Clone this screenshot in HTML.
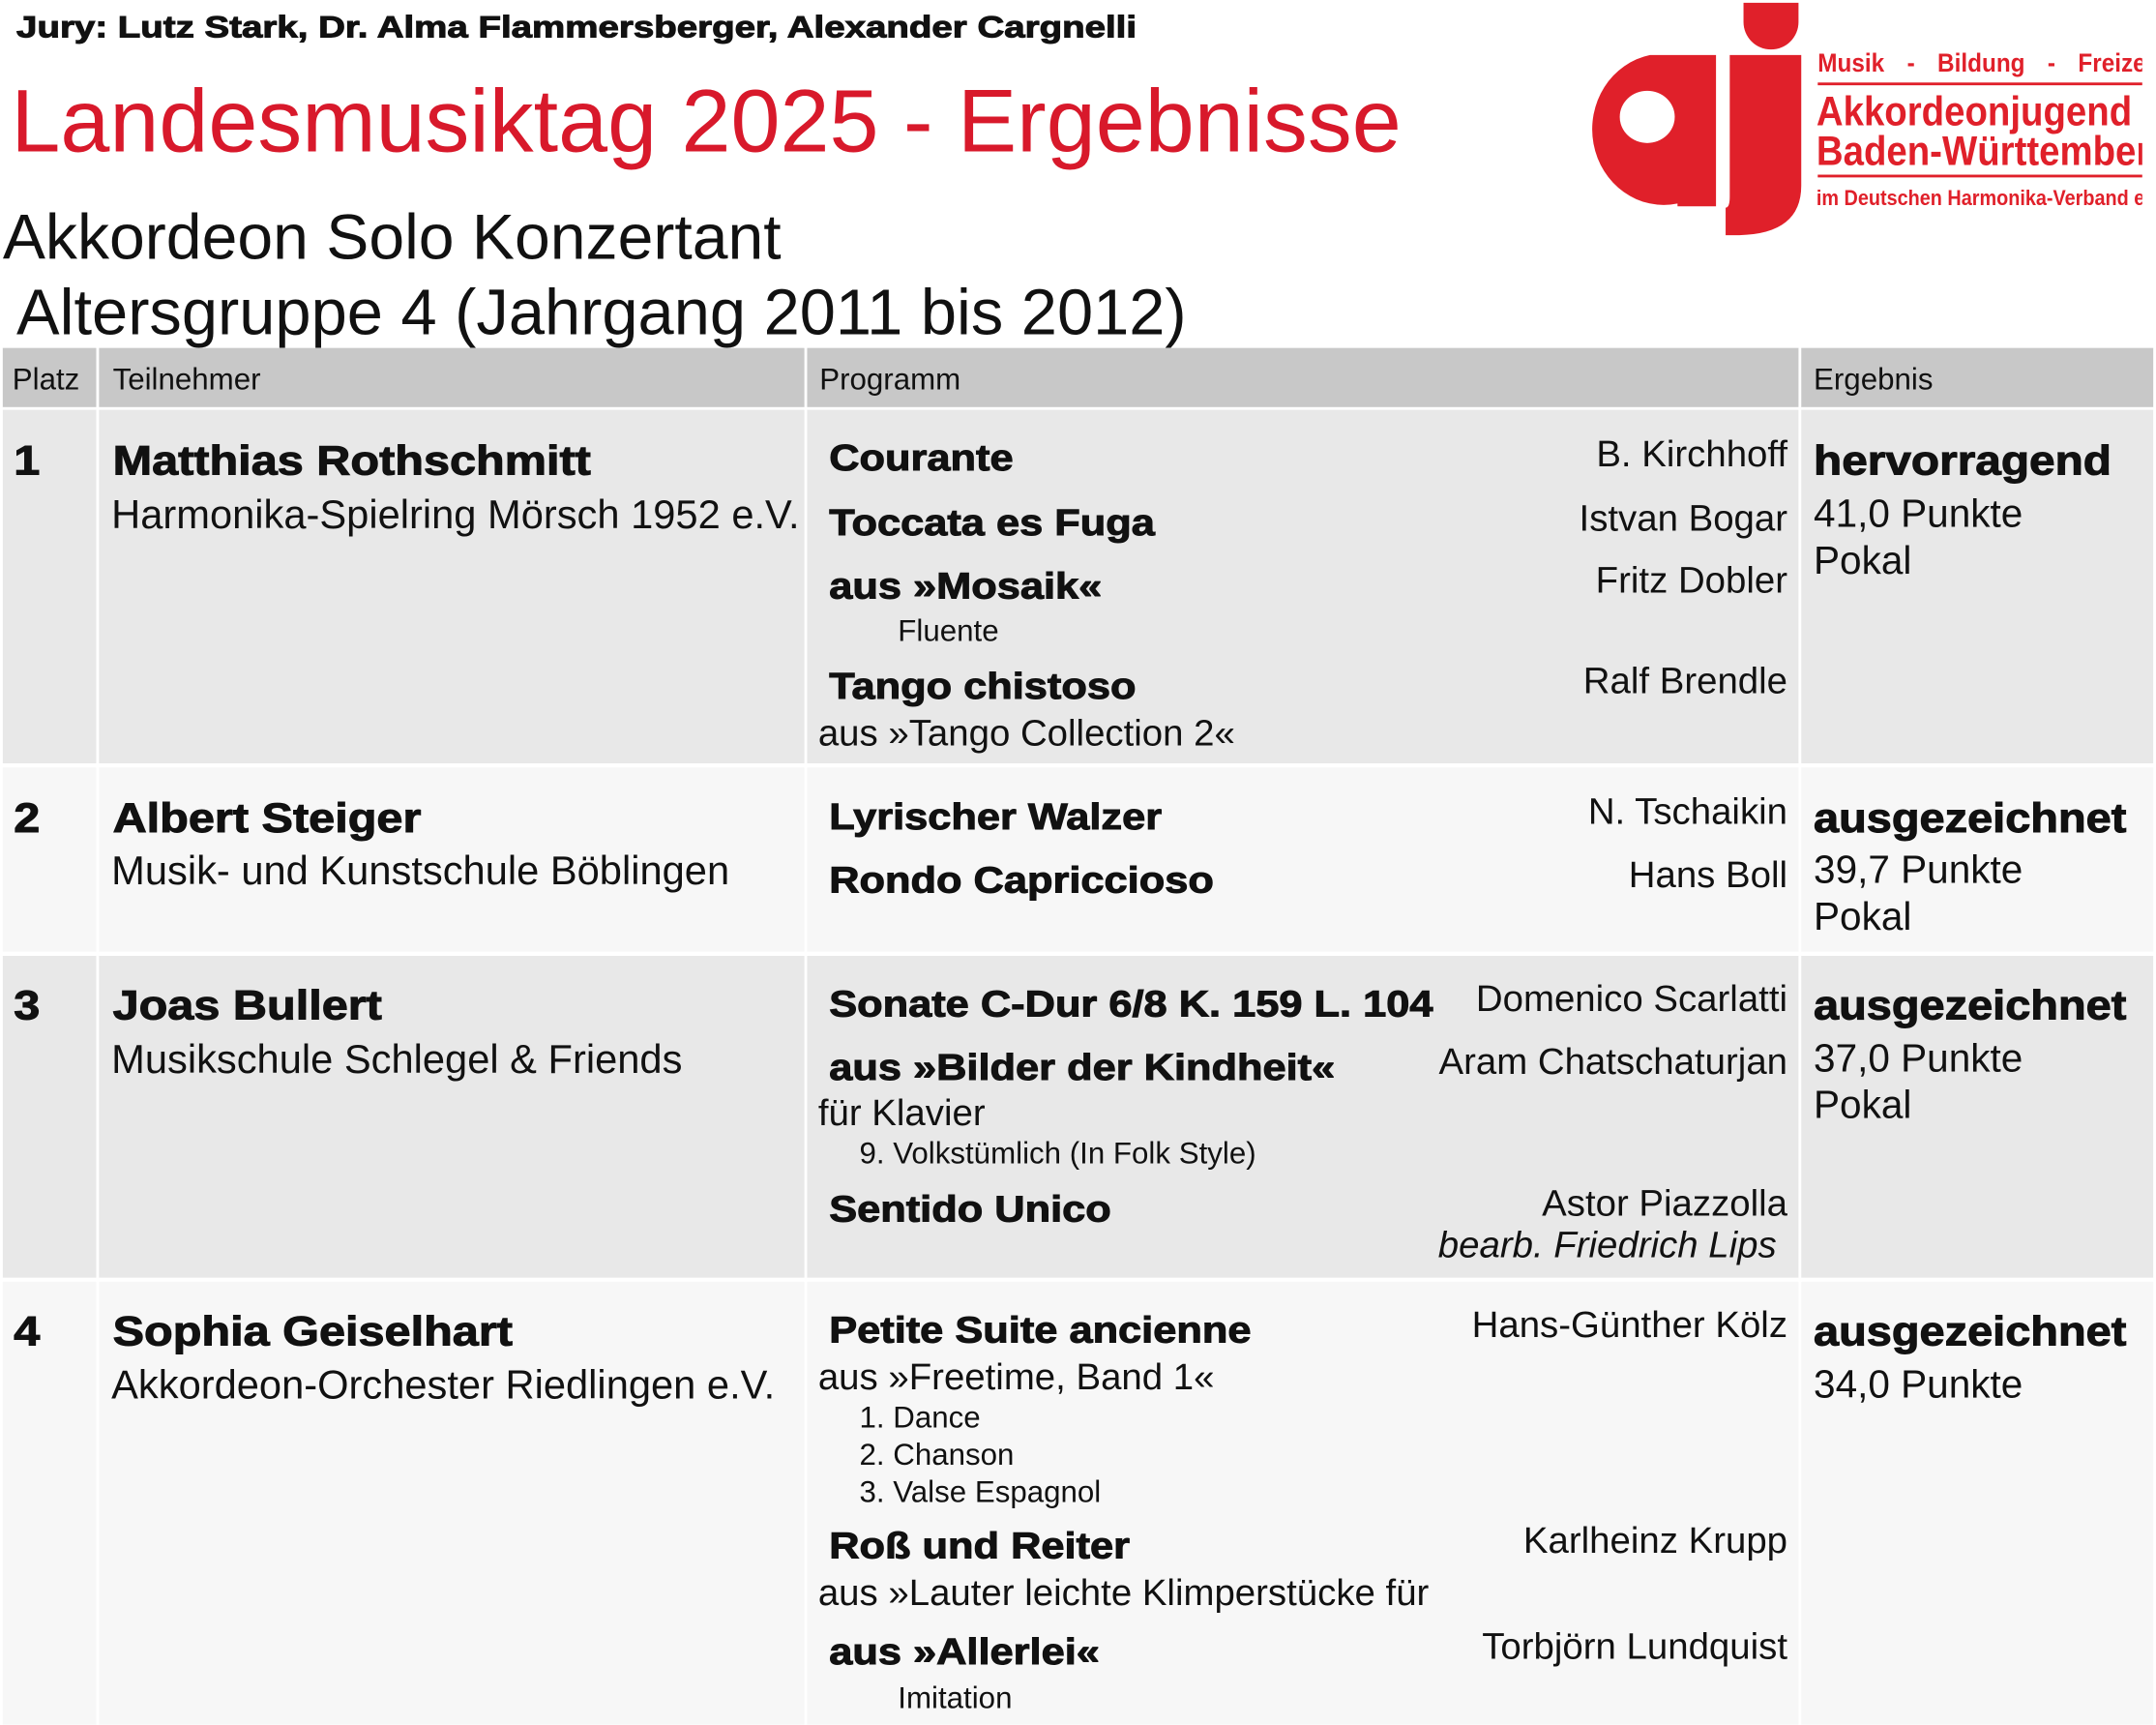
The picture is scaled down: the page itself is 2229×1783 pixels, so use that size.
<!DOCTYPE html>
<html><head><meta charset="utf-8"><style>
html,body{margin:0;padding:0;background:#fff;width:2229px;height:1782px;overflow:hidden}
#w{position:absolute;left:0;top:0;width:1568px;height:1253.5px;transform:scale(1.42156);transform-origin:0 0;font-family:"Liberation Sans",sans-serif;color:#111}
.t{position:absolute;white-space:nowrap;line-height:1}
.b{font-weight:bold;-webkit-text-stroke:0.7px #111;transform-origin:0 0;transform:scaleX(1.13)}
.n{font-size:30px;transform:scaleX(1.14)}
.r{text-align:right}
.c{position:absolute}
.lg{transform-origin:0 0;transform:scaleX(0.9)}
</style></head><body><div id="w">
<div class="t b" style="left:12px;top:9px;font-size:22px;transform:scaleX(1.23)">Jury: Lutz Stark, Dr. Alma Flammersberger, Alexander Cargnelli</div>
<div class="t" style="left:8px;top:56px;font-size:64.5px;color:#d8192b">Landesmusiktag 2025 - Ergebnisse</div>
<div class="t" style="left:2px;top:149px;font-size:46.5px">Akkordeon Solo Konzertant</div>
<div class="t" style="left:12px;top:203px;font-size:47px">Altersgruppe 4 (Jahrgang 2011 bis 2012)</div>

<!-- logo -->
<svg class="c" style="left:1140px;top:0" width="180" height="175" viewBox="1140 0 180 175">
<path d="M1268 2 h40 v14 a20 20 0 0 1 -20 20 a20 20 0 0 1 -20 -20z" fill="#e0202a"/>
<path d="M1200 40 a52 55 0 1 0 20 108 l0 2 h28 v-110z" fill="#e0202a"/>
<ellipse cx="1198" cy="85" rx="20" ry="19" fill="#fff"/>
<path d="M1258 40 h52 v95 q0 35 -45 36 h-10 v-20 q3 0 3 -8z" fill="#e0202a"/>
</svg>
<div class="c" style="left:1318px;top:30px;width:240px;height:130px;overflow:hidden;color:#e0202a;font-family:'Liberation Sans Narrow','Liberation Sans',sans-serif;font-weight:bold">
<div class="t lg" style="left:4px;top:7px;font-size:19px;word-spacing:13px">Musik - Bildung - Freizeit</div>
<div class="c" style="left:4px;top:30px;width:240px;height:2px;background:#e0202a"></div>
<div class="t lg" style="left:3px;top:37px;font-size:30px">Akkordeonjugend</div>
<div class="t lg" style="left:3px;top:66px;font-size:30px">Baden-Württemberg</div>
<div class="c" style="left:4px;top:97px;width:240px;height:2px;background:#e0202a"></div>
<div class="t lg" style="left:3px;top:107px;font-size:15.5px">im Deutschen Harmonika-Verband e.V.</div>
</div>

<!-- table backgrounds -->
<div class="c" style="left:2px;top:253px;width:68px;height:43px;background:#c8c8c8"></div>
<div class="c" style="left:72px;top:253px;width:513px;height:43px;background:#c8c8c8"></div>
<div class="c" style="left:587px;top:253px;width:721px;height:43px;background:#c8c8c8"></div>
<div class="c" style="left:1310px;top:253px;width:256px;height:43px;background:#c8c8c8"></div>

<div class="c" style="left:2px;top:298px;width:68px;height:257px;background:#e8e8e8"></div>
<div class="c" style="left:72px;top:298px;width:513px;height:257px;background:#e8e8e8"></div>
<div class="c" style="left:587px;top:298px;width:721px;height:257px;background:#e8e8e8"></div>
<div class="c" style="left:1310px;top:298px;width:256px;height:257px;background:#e8e8e8"></div>

<div class="c" style="left:2px;top:558px;width:68px;height:134px;background:#f7f7f7"></div>
<div class="c" style="left:72px;top:558px;width:513px;height:134px;background:#f7f7f7"></div>
<div class="c" style="left:587px;top:558px;width:721px;height:134px;background:#f7f7f7"></div>
<div class="c" style="left:1310px;top:558px;width:256px;height:134px;background:#f7f7f7"></div>

<div class="c" style="left:2px;top:695px;width:68px;height:234px;background:#e8e8e8"></div>
<div class="c" style="left:72px;top:695px;width:513px;height:234px;background:#e8e8e8"></div>
<div class="c" style="left:587px;top:695px;width:721px;height:234px;background:#e8e8e8"></div>
<div class="c" style="left:1310px;top:695px;width:256px;height:234px;background:#e8e8e8"></div>

<div class="c" style="left:2px;top:932px;width:68px;height:322px;background:#f7f7f7"></div>
<div class="c" style="left:72px;top:932px;width:513px;height:322px;background:#f7f7f7"></div>
<div class="c" style="left:587px;top:932px;width:721px;height:322px;background:#f7f7f7"></div>
<div class="c" style="left:1310px;top:932px;width:256px;height:322px;background:#f7f7f7"></div>

<!-- header -->
<div class="t" style="left:9px;top:265px;font-size:22px">Platz</div>
<div class="t" style="left:82px;top:265px;font-size:22px">Teilnehmer</div>
<div class="t" style="left:596px;top:265px;font-size:22px">Programm</div>
<div class="t" style="left:1319px;top:265px;font-size:22px">Ergebnis</div>

<!-- row 1 -->
<div class="t b n" style="left:10px;top:321px">1</div>
<div class="t b n" style="left:82px;top:321px">Matthias Rothschmitt</div>
<div class="t" style="left:81px;top:360px;font-size:29.3px">Harmonika-Spielring Mörsch 1952 e.V.</div>
<div class="t b" style="left:603px;top:320px;font-size:27px">Courante</div>
<div class="t b" style="left:603px;top:367px;font-size:27px">Toccata es Fuga</div>
<div class="t b" style="left:603px;top:413px;font-size:27px">aus »Mosaik«</div>
<div class="t" style="left:653px;top:448px;font-size:22px">Fluente</div>
<div class="t b" style="left:603px;top:486px;font-size:27px">Tango chistoso</div>
<div class="t" style="left:595px;top:520px;font-size:27px">aus »Tango Collection 2«</div>
<div class="t r" style="right:268px;top:317px;font-size:27px">B. Kirchhoff</div>
<div class="t r" style="right:268px;top:364px;font-size:27px">Istvan Bogar</div>
<div class="t r" style="right:268px;top:409px;font-size:27px">Fritz Dobler</div>
<div class="t r" style="right:268px;top:482px;font-size:27px">Ralf Brendle</div>
<div class="t b n" style="left:1319px;top:321px;transform:scaleX(1.12)">hervorragend</div>
<div class="t" style="left:1319px;top:360px;font-size:28.5px">41,0 Punkte</div>
<div class="t" style="left:1319px;top:394px;font-size:28.5px">Pokal</div>

<!-- row 2 -->
<div class="t b n" style="left:10px;top:581px">2</div>
<div class="t b n" style="left:82px;top:581px">Albert Steiger</div>
<div class="t" style="left:81px;top:619px;font-size:29.3px">Musik- und Kunstschule Böblingen</div>
<div class="t b" style="left:603px;top:581px;font-size:27px">Lyrischer Walzer</div>
<div class="t b" style="left:603px;top:627px;font-size:27px">Rondo Capriccioso</div>
<div class="t r" style="right:268px;top:577px;font-size:27px">N. Tschaikin</div>
<div class="t r" style="right:268px;top:623px;font-size:27px">Hans Boll</div>
<div class="t b n" style="left:1319px;top:581px;transform:scaleX(1.1)">ausgezeichnet</div>
<div class="t" style="left:1319px;top:619px;font-size:28.5px">39,7 Punkte</div>
<div class="t" style="left:1319px;top:653px;font-size:28.5px">Pokal</div>

<!-- row 3 -->
<div class="t b n" style="left:10px;top:717px">3</div>
<div class="t b n" style="left:82px;top:717px">Joas Bullert</div>
<div class="t" style="left:81px;top:756px;font-size:29.3px">Musikschule Schlegel &amp; Friends</div>
<div class="t b" style="left:603px;top:717px;font-size:27px">Sonate C-Dur 6/8 K. 159 L. 104</div>
<div class="t b" style="left:603px;top:763px;font-size:27px">aus »Bilder der Kindheit«</div>
<div class="t" style="left:595px;top:796px;font-size:27px">für Klavier</div>
<div class="t" style="left:625px;top:828px;font-size:22px">9. Volkstümlich (In Folk Style)</div>
<div class="t b" style="left:603px;top:866px;font-size:27px">Sentido Unico</div>
<div class="t r" style="right:268px;top:713px;font-size:27px">Domenico Scarlatti</div>
<div class="t r" style="right:268px;top:759px;font-size:27px">Aram Chatschaturjan</div>
<div class="t r" style="right:268px;top:862px;font-size:27px">Astor Piazzolla</div>
<div class="t r" style="right:276px;top:892px;font-size:27px;font-style:italic">bearb. Friedrich Lips</div>
<div class="t b n" style="left:1319px;top:717px;transform:scaleX(1.1)">ausgezeichnet</div>
<div class="t" style="left:1319px;top:756px;font-size:28.5px">37,0 Punkte</div>
<div class="t" style="left:1319px;top:790px;font-size:28.5px">Pokal</div>

<!-- row 4 -->
<div class="t b n" style="left:10px;top:954px">4</div>
<div class="t b n" style="left:82px;top:954px">Sophia Geiselhart</div>
<div class="t" style="left:81px;top:993px;font-size:29.3px">Akkordeon-Orchester Riedlingen e.V.</div>
<div class="t b" style="left:603px;top:954px;font-size:27px">Petite Suite ancienne</div>
<div class="t" style="left:595px;top:988px;font-size:27px">aus »Freetime, Band 1«</div>
<div class="t" style="left:625px;top:1020px;font-size:22px">1. Dance</div>
<div class="t" style="left:625px;top:1047px;font-size:22px">2. Chanson</div>
<div class="t" style="left:625px;top:1074px;font-size:22px">3. Valse Espagnol</div>
<div class="t b" style="left:603px;top:1111px;font-size:27px">Roß und Reiter</div>
<div class="c" style="left:595px;top:1140px;width:445px;height:36px;overflow:hidden"><div class="t" style="left:0;top:5px;font-size:27px">aus »Lauter leichte Klimperstücke für Akkordeon«</div></div>
<div class="t b" style="left:603px;top:1188px;font-size:27px">aus »Allerlei«</div>
<div class="t" style="left:653px;top:1224px;font-size:22px">Imitation</div>
<div class="t r" style="right:268px;top:950px;font-size:27px">Hans-Günther Kölz</div>
<div class="t r" style="right:268px;top:1107px;font-size:27px">Karlheinz Krupp</div>
<div class="t r" style="right:268px;top:1184px;font-size:27px">Torbjörn Lundquist</div>
<div class="t b n" style="left:1319px;top:954px;transform:scaleX(1.1)">ausgezeichnet</div>
<div class="t" style="left:1319px;top:993px;font-size:28.5px">34,0 Punkte</div>
</div></body></html>
